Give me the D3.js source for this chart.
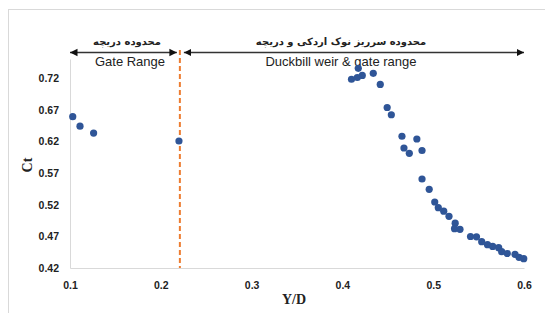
<!DOCTYPE html>
<html>
<head>
<meta charset="utf-8">
<script src="https://cdn.jsdelivr.net/npm/d3@7/dist/d3.min.js"></script>
<style>
  body { margin: 0; background: #fff; }
  svg { display: block; }
</style>
</head>
<body>
<svg id="chart" width="545" height="313"></svg>
<script>
// values
var yd = [0.103, 0.111, 0.126, 0.220,
    0.4175, 0.410, 0.4164, 0.4219, 0.434, 0.4417, 0.4493, 0.4539, 0.4656, 0.482,
    0.4678, 0.4737, 0.4877, 0.4877, 0.4956, 0.5017, 0.5056, 0.5116, 0.5174, 0.5242,
    0.5235, 0.5295, 0.5411, 0.5477, 0.5534, 0.5598, 0.5655, 0.5721, 0.5754, 0.5816,
    0.5901, 0.5945, 0.5997];
var ct = [0.659, 0.644, 0.633, 0.6205,
    0.7353, 0.718, 0.7208, 0.724, 0.7274, 0.7098, 0.6734, 0.662, 0.628, 0.6237,
    0.6095, 0.6011, 0.6055, 0.5605, 0.5443, 0.5242, 0.5152, 0.5097, 0.5016, 0.4907,
    0.4821, 0.4811, 0.4697, 0.4693, 0.4615, 0.4568, 0.454, 0.4521, 0.4457, 0.4429,
    0.4416, 0.4369, 0.4347];
var xTicks = [0.1, 0.2, 0.3, 0.4, 0.5, 0.6];
var yTicks = [0.42, 0.47, 0.52, 0.57, 0.62, 0.67, 0.72];
var gateLimit = 0.221;
var ranges = [
    {from: 0.1, to: gateLimit, fa: "محدوده دریچه", en: "Gate Range"},
    {from: gateLimit, to: 0.6, fa: "محدوده سرریز نوک اردکی و دریچه", en: "Duckbill weir & gate range"}
];

var svg = d3.select("#chart"),
    plotLeft = 70, plotRight = 524, plotTop = 59, plotBottom = 268;

var x = d3.scaleLinear().domain([0.1, 0.6]).range([plotLeft, plotRight]),
    y = d3.scaleLinear().domain([0.42, 0.75]).range([plotBottom, plotTop]);

// chart frame (only top/left edges are in view)
svg.append("rect")
    .attr("x", 8.5).attr("y", 9.5)
    .attr("width", 600).attr("height", 400)
    .attr("fill", "none").attr("stroke", "#d9d9d9");

var defs = svg.append("defs");
defs.append("marker")
    .attr("id", "head")
    .attr("viewBox", "0 0 10 10")
    .attr("refX", 10).attr("refY", 5)
    .attr("markerWidth", 5).attr("markerHeight", 5.5)
    .attr("markerUnits", "strokeWidth")
    .attr("orient", "auto-start-reverse")
    .append("path")
    .attr("d", "M0,0L10,5L0,10Z")
    .attr("fill", "#111");

// axes
var xAxis = d3.axisBottom(x).tickValues(xTicks).tickSize(0).tickPadding(14)
    .tickFormat(d3.format(".1f"));
var yAxis = d3.axisLeft(y).tickValues(yTicks).tickSize(0).tickPadding(11)
    .tickFormat(d3.format(".2f"));

var gx = svg.append("g").attr("transform", "translate(0," + plotBottom + ")").call(xAxis);
var gy = svg.append("g").attr("transform", "translate(" + plotLeft + ",0)").call(yAxis);

[gx, gy].forEach(function (g) {
    g.select(".domain").attr("stroke", "#d9d9d9").attr("stroke-width", 1);
    g.selectAll("text")
        .attr("font-family", "Liberation Sans, Arial, sans-serif")
        .attr("font-size", "10.5px")
        .attr("font-weight", "bold")
        .attr("fill", "#222");
});

// gate limit line
svg.append("line")
    .attr("x1", x(gateLimit)).attr("x2", x(gateLimit))
    .attr("y1", 50).attr("y2", plotBottom)
    .attr("stroke", "#ED7D31")
    .attr("stroke-width", 2)
    .attr("stroke-dasharray", "5,3");

// range arrows + labels
var arrowY = 52.5;
ranges.forEach(function (r, i) {
    var x1 = x(r.from) + (i === 1 ? 4 : 0),
        x2 = x(r.to) - (i === 0 ? 3 : 0);
    svg.append("line")
        .attr("x1", x1).attr("x2", x2)
        .attr("y1", arrowY).attr("y2", arrowY)
        .attr("stroke", "#333")
        .attr("stroke-width", 1.5)
        .attr("marker-start", "url(#head)")
        .attr("marker-end", "url(#head)");
    svg.append("text")
        .attr("x", i === 0 ? 127 : 341).attr("y", 45)
        .attr("text-anchor", "middle")
        .attr("direction", "rtl")
        .attr("font-family", "DejaVu Sans, sans-serif")
        .attr("font-size", "10px")
        .attr("font-weight", "bold")
        .attr("fill", "#222")
        .text(r.fa);
    svg.append("text")
        .attr("x", i === 0 ? 130 : 341).attr("y", 66)
        .attr("text-anchor", "middle")
        .attr("font-family", "Liberation Sans, Arial, sans-serif")
        .attr("font-size", "13px")
        .attr("fill", "#222")
        .text(r.en);
});

// points
svg.append("g")
    .selectAll("circle")
    .data(yd)
    .enter()
    .append("circle")
    .attr("cx", function (d) { return x(d); })
    .attr("cy", function (d, i) { return y(ct[i]); })
    .attr("r", 3.6)
    .attr("fill", "#2F5597");

// axis titles
svg.append("text")
    .attr("transform", "translate(32,165) rotate(-90)")
    .attr("text-anchor", "middle")
    .attr("font-family", "Liberation Serif, Times New Roman, serif")
    .attr("font-size", "14px")
    .attr("font-weight", "bold")
    .attr("fill", "#222")
    .text("Ct");

svg.append("text")
    .attr("x", 294).attr("y", 304)
    .attr("text-anchor", "middle")
    .attr("font-family", "Liberation Serif, Times New Roman, serif")
    .attr("font-size", "14px")
    .attr("font-weight", "bold")
    .attr("fill", "#222")
    .text("Y/D");
</script>
</body>
</html>
